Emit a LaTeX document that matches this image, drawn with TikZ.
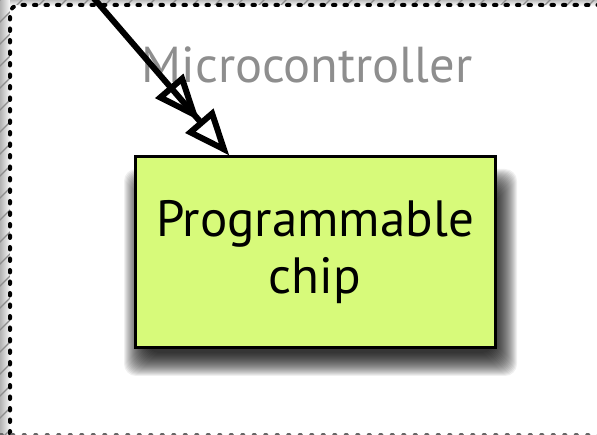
\documentclass[tikz,border=0pt]{standalone}
\usepackage{fontspec}
\setmainfont{PT Sans}
\usetikzlibrary{arrows.meta,calc}
\definecolor{chipgreen}{HTML}{D7FA7A}
\definecolor{labelgray}{HTML}{8E8E8E}
\tikzset{
  framestyle/.style={draw=black,line width=4pt,dash pattern=on 2.5pt off 9pt,line cap=round,rounded corners=9pt},
  hatchline/.style={draw=black!45,line width=1.3pt},
  shadowlayer/.style={fill=black,fill opacity=0.06,rounded corners=12pt},
  chipbox/.style={draw=black,line width=3pt,fill=chipgreen,minimum width=360pt,minimum height=191pt,
    inner sep=0pt,align=center,font=\fontsize{51}{57}\selectfont},
  titlestyle/.style={text=labelgray,font=\fontsize{50.5}{56}\selectfont,inner sep=0pt,anchor=base},
  feedarrow/.style={line width=6pt,-{Triangle[open,length=46pt,width=36pt]Triangle[open,length=46pt,width=36pt]}}
}
\begin{document}
\begin{tikzpicture}[x=1pt,y=-1pt]
\useasboundingbox (0,0) rectangle (597,435);
% frame shadow with hatch
\fill[left color=black!30,right color=white] (0,0) rectangle (11,435);
\fill[top color=black!25,bottom color=white] (10,0) rectangle (597,6);
\begin{scope}
\clip (0,0) -- (597,0) -- (597,5) -- (10,5) -- (10,435) -- (0,435) -- cycle;
\foreach \c in {0,22,...,1100} { \draw[hatchline] (-2,\c+2) -- (\c+2,-2); }
\end{scope}
\fill[white] (10,6) rectangle (597,435);
\draw[framestyle] (10,445) -- (10,5) -- (620,5);
\draw[framestyle,draw=black!60,line width=2.5pt] (0,434.5) -- (620,434.5);
\node[titlestyle] (mc) at (307,83) {Microcontroller};
% chip shadow
\foreach \d in {-5,-4,...,18} {
  \fill[shadowlayer] (142-\d,187-\d) rectangle (499+\d,358+\d);
}
\node[chipbox] (chip) at (315,252.5) {Programmable\\chip};
\coordinate (src) at (91,-5);
\draw[feedarrow] (src) -- ($(chip.north west)!0.264!(chip.north east)$);
\end{tikzpicture}
\end{document}
